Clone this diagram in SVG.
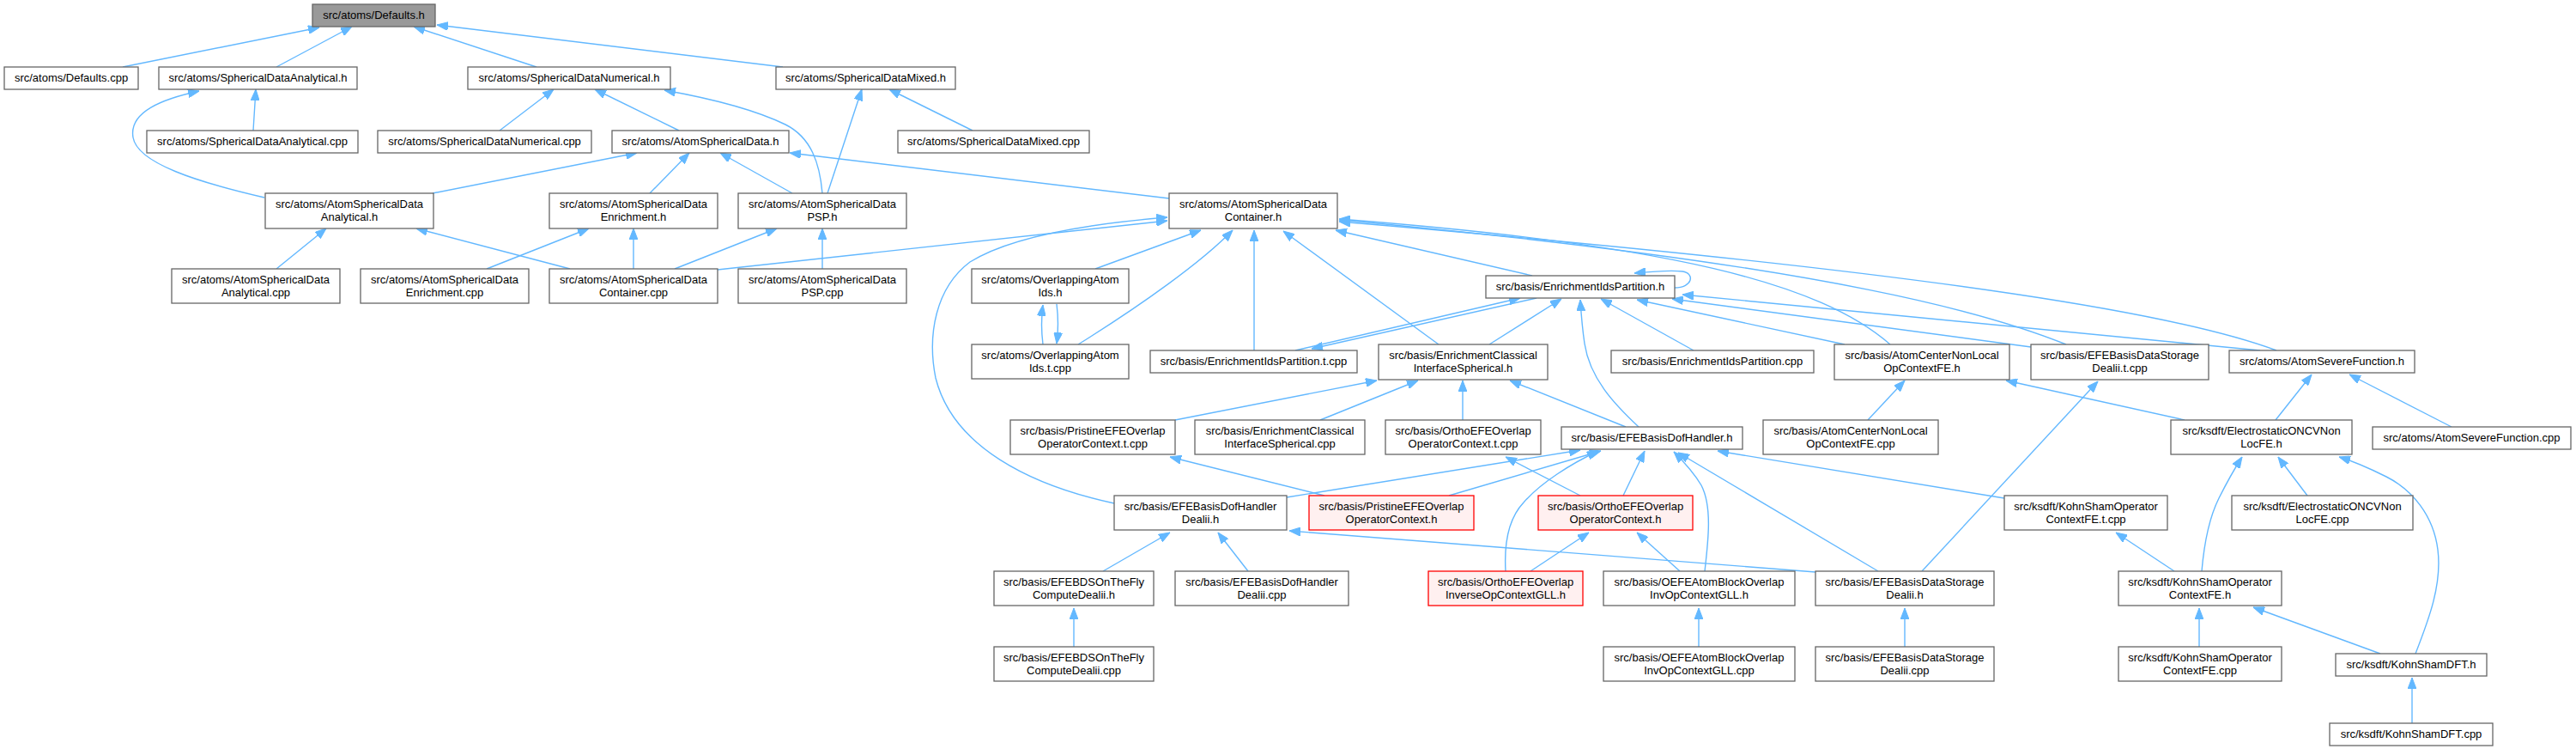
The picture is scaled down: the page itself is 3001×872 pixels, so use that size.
<svg xmlns="http://www.w3.org/2000/svg" width="3001" height="872" viewBox="0 0 3001 872">
<style>
.n rect{fill:#ffffff;stroke:#666666;stroke-width:1.3}
.g rect{fill:#999999;stroke:#666666;stroke-width:1.3}
.r rect{fill:#fff0f0;stroke:#ff0000;stroke-width:1.3}
text{font-family:"Liberation Sans",Arial,Helvetica,sans-serif;font-size:13px;text-anchor:middle;fill:#000000}
.e path{fill:none;stroke:#63b8ff;stroke-width:1.4;marker-end:url(#a)}
</style>
<defs>
<marker id="a" markerUnits="userSpaceOnUse" viewBox="0 0 13 10" markerWidth="13" markerHeight="10" refX="13" refY="5" orient="auto"><path d="M0,0 L13,5 L0,10 z" fill="#63b8ff" stroke="#63b8ff" stroke-width="1"/></marker>
</defs>
<rect width="3001" height="872" fill="#ffffff"/>
<g id="edges" class="e">
<path d="M143,78 L372,32"/>
<path d="M322,78 L410,31"/>
<path d="M625,78 L482,31"/>
<path d="M912,78 L509,29"/>
<path d="M295,152 L298,104"/>
<path d="M308,230 C230,212 160,190 155,160 C150,130 190,115 232,106"/>
<path d="M582,152 L645,104"/>
<path d="M791,152 L693,104"/>
<path d="M958,225 C955,190 945,160 915,145 C880,128 830,115 774,105"/>
<path d="M1133,152 L1036,104"/>
<path d="M964,225 L1004,104"/>
<path d="M504,225 L742,178"/>
<path d="M757,225 L803,178"/>
<path d="M923,225 L839,178"/>
<path d="M1362,231 L920,178"/>
<path d="M322,313 L380,266"/>
<path d="M664,313 L485,266"/>
<path d="M567,313 L686,266"/>
<path d="M738,313 L738,266"/>
<path d="M786,313 L905,266"/>
<path d="M958,313 L958,266"/>
<path d="M836,314 L1360,257"/>
<path d="M1298,586 C1200,565 1110,520 1090,440 C1080,390 1090,335 1130,305 C1170,280 1250,262 1360,253"/>
<path d="M1276,313 L1399,268"/>
<path d="M1256,401 C1330,355 1400,305 1436,268"/>
<path d="M1461,408 L1461,268"/>
<path d="M1676,401 L1495,269"/>
<path d="M1785,321 L1556,268"/>
<path d="M2202,401 C2120,330 1950,285 1560,255"/>
<path d="M2407,401 C2330,370 2150,310 1560,256"/>
<path d="M2652,408 C2550,370 2300,320 1560,258"/>
<path d="M1951,335 C1972,335 1975,318 1960,316 C1945,314 1925,316 1904,318"/>
<path d="M1509,408 L1771,347"/>
<path d="M1790,347 L1528,406"/>
<path d="M1735,401 L1819,348"/>
<path d="M1909,497 C1880,470 1852,440 1846,400 C1843,380 1842,365 1841,349"/>
<path d="M1973,408 L1865,348"/>
<path d="M2149,401 L1907,349"/>
<path d="M2366,404 L1948,348"/>
<path d="M2633,408 L1960,343"/>
<path d="M1369,489 L1604,443"/>
<path d="M1538,489 L1652,443"/>
<path d="M1704,489 L1704,443"/>
<path d="M1894,497 L1759,443"/>
<path d="M1499,579 L1841,524"/>
<path d="M1688,577 L1865,525"/>
<path d="M1754,665 C1752,630 1758,603 1775,585 C1795,562 1830,540 1862,525"/>
<path d="M1891,577 L1916,525"/>
<path d="M1986,665 C1990,630 1995,590 1982,565 C1972,548 1960,536 1950,526"/>
<path d="M2188,665 L1955,527"/>
<path d="M2335,580 L2001,525"/>
<path d="M1543,577 L1363,532"/>
<path d="M1841,577 L1754,532"/>
<path d="M1783,665 L1851,620"/>
<path d="M1957,665 L1907,620"/>
<path d="M1285,665 L1363,620"/>
<path d="M1454,665 L1419,620"/>
<path d="M2115,666 L1502,618"/>
<path d="M1251,753 L1251,708"/>
<path d="M1979,753 L1979,708"/>
<path d="M2219,753 L2219,708"/>
<path d="M2239,665 L2444,444"/>
<path d="M2176,489 L2219,443"/>
<path d="M2545,489 L2337,443"/>
<path d="M2651,489 L2693,436"/>
<path d="M2856,497 L2737,436"/>
<path d="M2565,665 C2568,630 2575,600 2585,580 C2595,560 2603,546 2612,532"/>
<path d="M2688,577 L2654,532"/>
<path d="M2814,761 C2830,720 2845,680 2840,640 C2835,600 2810,570 2780,555 C2760,545 2745,538 2725,532"/>
<path d="M2533,665 L2465,620"/>
<path d="M2562,753 L2562,708"/>
<path d="M2773,761 L2625,707"/>
<path d="M2810,842 L2810,789"/>
<path d="M1231,354 C1233,370 1233,385 1231,400"/>
<path d="M1215,401 C1213,385 1213,370 1215,355"/>
</g>
<g id="n_defaults_h" class="g"><rect x="364" y="5" width="143" height="26"/><text x="435.5" y="22">src/atoms/Defaults.h</text></g>
<g id="n_defaults_cpp" class="n"><rect x="5" y="78" width="156" height="26"/><text x="83" y="95">src/atoms/Defaults.cpp</text></g>
<g id="n_sda_h" class="n"><rect x="185" y="78" width="231" height="26"/><text x="300.5" y="95">src/atoms/SphericalDataAnalytical.h</text></g>
<g id="n_sdn_h" class="n"><rect x="545" y="78" width="236" height="26"/><text x="663" y="95">src/atoms/SphericalDataNumerical.h</text></g>
<g id="n_sdm_h" class="n"><rect x="904" y="78" width="209" height="26"/><text x="1008.5" y="95">src/atoms/SphericalDataMixed.h</text></g>
<g id="n_sda_cpp" class="n"><rect x="171" y="152" width="246" height="26"/><text x="294" y="169">src/atoms/SphericalDataAnalytical.cpp</text></g>
<g id="n_sdn_cpp" class="n"><rect x="440" y="152" width="249" height="26"/><text x="564.5" y="169">src/atoms/SphericalDataNumerical.cpp</text></g>
<g id="n_asd_h" class="n"><rect x="713" y="152" width="206" height="26"/><text x="816" y="169">src/atoms/AtomSphericalData.h</text></g>
<g id="n_sdm_cpp" class="n"><rect x="1046" y="152" width="223" height="26"/><text x="1157.5" y="169">src/atoms/SphericalDataMixed.cpp</text></g>
<g id="n_asda_h" class="n"><rect x="309" y="225" width="196" height="41"/><text x="407" y="241.5">src/atoms/AtomSphericalData</text><text x="407" y="256.5">Analytical.h</text></g>
<g id="n_asde_h" class="n"><rect x="640" y="225" width="196" height="41"/><text x="738" y="241.5">src/atoms/AtomSphericalData</text><text x="738" y="256.5">Enrichment.h</text></g>
<g id="n_asdp_h" class="n"><rect x="860" y="225" width="196" height="41"/><text x="958" y="241.5">src/atoms/AtomSphericalData</text><text x="958" y="256.5">PSP.h</text></g>
<g id="n_asdc_h" class="n"><rect x="1362" y="225" width="196" height="41"/><text x="1460" y="241.5">src/atoms/AtomSphericalData</text><text x="1460" y="256.5">Container.h</text></g>
<g id="n_asda_cpp" class="n"><rect x="200" y="313" width="196" height="40"/><text x="298" y="329.5">src/atoms/AtomSphericalData</text><text x="298" y="344.5">Analytical.cpp</text></g>
<g id="n_asde_cpp" class="n"><rect x="420" y="313" width="196" height="40"/><text x="518" y="329.5">src/atoms/AtomSphericalData</text><text x="518" y="344.5">Enrichment.cpp</text></g>
<g id="n_asdc_cpp" class="n"><rect x="640" y="313" width="196" height="40"/><text x="738" y="329.5">src/atoms/AtomSphericalData</text><text x="738" y="344.5">Container.cpp</text></g>
<g id="n_asdp_cpp" class="n"><rect x="860" y="313" width="196" height="40"/><text x="958" y="329.5">src/atoms/AtomSphericalData</text><text x="958" y="344.5">PSP.cpp</text></g>
<g id="n_oai_h" class="n"><rect x="1132" y="313" width="183" height="40"/><text x="1223.5" y="329.5">src/atoms/OverlappingAtom</text><text x="1223.5" y="344.5">Ids.h</text></g>
<g id="n_eip_h" class="n"><rect x="1731" y="321" width="220" height="26"/><text x="1841" y="338">src/basis/EnrichmentIdsPartition.h</text></g>
<g id="n_oai_tcpp" class="n"><rect x="1132" y="401" width="183" height="40"/><text x="1223.5" y="417.5">src/atoms/OverlappingAtom</text><text x="1223.5" y="432.5">Ids.t.cpp</text></g>
<g id="n_eip_tcpp" class="n"><rect x="1340" y="408" width="241" height="26"/><text x="1460.5" y="425">src/basis/EnrichmentIdsPartition.t.cpp</text></g>
<g id="n_ecis_h" class="n"><rect x="1606" y="401" width="197" height="41"/><text x="1704.5" y="417.5">src/basis/EnrichmentClassical</text><text x="1704.5" y="432.5">InterfaceSpherical.h</text></g>
<g id="n_eip_cpp" class="n"><rect x="1877" y="408" width="236" height="26"/><text x="1995" y="425">src/basis/EnrichmentIdsPartition.cpp</text></g>
<g id="n_acnl_h" class="n"><rect x="2137" y="401" width="204" height="41"/><text x="2239" y="417.5">src/basis/AtomCenterNonLocal</text><text x="2239" y="432.5">OpContextFE.h</text></g>
<g id="n_efebds_tcpp" class="n"><rect x="2366" y="401" width="207" height="41"/><text x="2469.5" y="417.5">src/basis/EFEBasisDataStorage</text><text x="2469.5" y="432.5">Dealii.t.cpp</text></g>
<g id="n_asf_h" class="n"><rect x="2597" y="408" width="216" height="26"/><text x="2705" y="425">src/atoms/AtomSevereFunction.h</text></g>
<g id="n_pefe_tcpp" class="n"><rect x="1177" y="489" width="192" height="40"/><text x="1273" y="505.5">src/basis/PristineEFEOverlap</text><text x="1273" y="520.5">OperatorContext.t.cpp</text></g>
<g id="n_ecis_cpp" class="n"><rect x="1392" y="489" width="198" height="40"/><text x="1491" y="505.5">src/basis/EnrichmentClassical</text><text x="1491" y="520.5">InterfaceSpherical.cpp</text></g>
<g id="n_oefe_tcpp" class="n"><rect x="1614" y="489" width="181" height="40"/><text x="1704.5" y="505.5">src/basis/OrthoEFEOverlap</text><text x="1704.5" y="520.5">OperatorContext.t.cpp</text></g>
<g id="n_efedh_h" class="n"><rect x="1819" y="497" width="211" height="26"/><text x="1924.5" y="514">src/basis/EFEBasisDofHandler.h</text></g>
<g id="n_acnl_cpp" class="n"><rect x="2054" y="489" width="204" height="40"/><text x="2156" y="505.5">src/basis/AtomCenterNonLocal</text><text x="2156" y="520.5">OpContextFE.cpp</text></g>
<g id="n_eoncv_h" class="n"><rect x="2529" y="489" width="211" height="40"/><text x="2634.5" y="505.5">src/ksdft/ElectrostaticONCVNon</text><text x="2634.5" y="520.5">LocFE.h</text></g>
<g id="n_asf_cpp" class="n"><rect x="2764" y="497" width="231" height="26"/><text x="2879.5" y="514">src/atoms/AtomSevereFunction.cpp</text></g>
<g id="n_efedhd_h" class="n"><rect x="1298" y="577" width="201" height="40"/><text x="1398.5" y="593.5">src/basis/EFEBasisDofHandler</text><text x="1398.5" y="608.5">Dealii.h</text></g>
<g id="n_pefe_h" class="r"><rect x="1525" y="577" width="192" height="40"/><text x="1621" y="593.5">src/basis/PristineEFEOverlap</text><text x="1621" y="608.5">OperatorContext.h</text></g>
<g id="n_oefe_h" class="r"><rect x="1792" y="577" width="180" height="40"/><text x="1882" y="593.5">src/basis/OrthoEFEOverlap</text><text x="1882" y="608.5">OperatorContext.h</text></g>
<g id="n_ksoc_tcpp" class="n"><rect x="2335" y="577" width="190" height="40"/><text x="2430" y="593.5">src/ksdft/KohnShamOperator</text><text x="2430" y="608.5">ContextFE.t.cpp</text></g>
<g id="n_eoncv_cpp" class="n"><rect x="2600" y="577" width="211" height="40"/><text x="2705.5" y="593.5">src/ksdft/ElectrostaticONCVNon</text><text x="2705.5" y="608.5">LocFE.cpp</text></g>
<g id="n_efebdsotf_h" class="n"><rect x="1158" y="665" width="186" height="40"/><text x="1251" y="681.5">src/basis/EFEBDSOnTheFly</text><text x="1251" y="696.5">ComputeDealii.h</text></g>
<g id="n_efedhd_cpp" class="n"><rect x="1369" y="665" width="202" height="40"/><text x="1470" y="681.5">src/basis/EFEBasisDofHandler</text><text x="1470" y="696.5">Dealii.cpp</text></g>
<g id="n_oefeinv_h" class="r"><rect x="1664" y="665" width="180" height="40"/><text x="1754" y="681.5">src/basis/OrthoEFEOverlap</text><text x="1754" y="696.5">InverseOpContextGLL.h</text></g>
<g id="n_oefeab_h" class="n"><rect x="1868" y="665" width="223" height="40"/><text x="1979.5" y="681.5">src/basis/OEFEAtomBlockOverlap</text><text x="1979.5" y="696.5">InvOpContextGLL.h</text></g>
<g id="n_efebds_h" class="n"><rect x="2115" y="665" width="208" height="40"/><text x="2219" y="681.5">src/basis/EFEBasisDataStorage</text><text x="2219" y="696.5">Dealii.h</text></g>
<g id="n_ksoc_h" class="n"><rect x="2468" y="665" width="190" height="40"/><text x="2563" y="681.5">src/ksdft/KohnShamOperator</text><text x="2563" y="696.5">ContextFE.h</text></g>
<g id="n_efebdsotf_cpp" class="n"><rect x="1158" y="753" width="186" height="40"/><text x="1251" y="769.5">src/basis/EFEBDSOnTheFly</text><text x="1251" y="784.5">ComputeDealii.cpp</text></g>
<g id="n_oefeab_cpp" class="n"><rect x="1868" y="753" width="223" height="40"/><text x="1979.5" y="769.5">src/basis/OEFEAtomBlockOverlap</text><text x="1979.5" y="784.5">InvOpContextGLL.cpp</text></g>
<g id="n_efebds_cpp" class="n"><rect x="2115" y="753" width="208" height="40"/><text x="2219" y="769.5">src/basis/EFEBasisDataStorage</text><text x="2219" y="784.5">Dealii.cpp</text></g>
<g id="n_ksoc_cpp" class="n"><rect x="2468" y="753" width="190" height="40"/><text x="2563" y="769.5">src/ksdft/KohnShamOperator</text><text x="2563" y="784.5">ContextFE.cpp</text></g>
<g id="n_ksdft_h" class="n"><rect x="2721" y="761" width="176" height="26"/><text x="2809" y="778">src/ksdft/KohnShamDFT.h</text></g>
<g id="n_ksdft_cpp" class="n"><rect x="2714" y="842" width="190" height="26"/><text x="2809" y="859">src/ksdft/KohnShamDFT.cpp</text></g>
</svg>
